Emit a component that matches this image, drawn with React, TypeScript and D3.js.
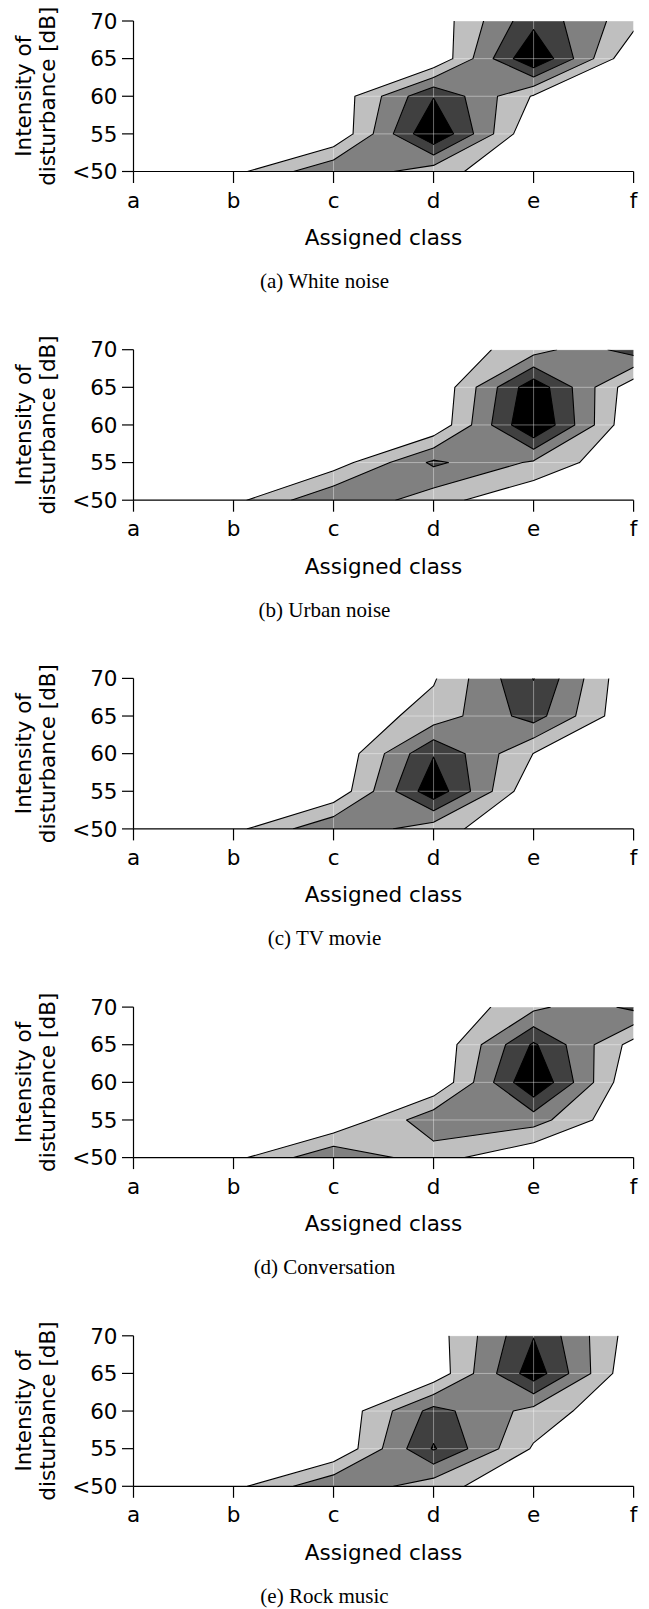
import React from 'react';
import * as d3 from 'd3';

// ---- data ----
const classes = ['a', 'b', 'c', 'd', 'e', 'f'];
const intensityLabels = ['<50', '55', '60', '65', '70'];
const thresholds = [1, 2, 3, 4];
const bandColors = ['#bfbfbf', '#808080', '#404040', '#000000'];

// rows: <50, 55, 60, 65, 70 ; columns: a..f
const whiteNoise = [
  [0, 0.7, 2.87, 1.42, 0.06, 0],
  [0, 0, 0.03, 5.0, 0, 0],
  [0, 0, 0.2, 3.95, 0.9, 0],
  [0, 0, 0, 0.05, 5.0, 0],
  [0, 0, 0, 0.3, 3.7, 1.37],
];
const urbanNoise = [
  [0, 0.7, 2.95, 1.42, 0.06, 0],
  [0, 0, 0.45, 3.2, 1.85, 0],
  [0, 0, 0, 0.1, 5.1, 0],
  [0, 0, 0, 0, 4.7, 0.3],
  [0, 0, 0, 0.24, 1.55, 3.5],
];
const tvMovie = [
  [0, 0.7, 2.87, 1.42, 0.06, 0],
  [0, 0, 0.2, 4.7, 0.1, 0],
  [0, 0, 0, 3.93, 0.98, 0],
  [0, 0, 0.22, 1.4, 3.45, 0],
  [0, 0, 0, 0.9, 4.03, 0],
];
const conversation = [
  [0, 0.7, 2.87, 1.42, 0.06, 0],
  [0, 0, 0, 2.74, 2.44, 0],
  [0, 0, 0, 0, 5.0, 0],
  [0, 0, 0, 0.04, 4.15, 0.6],
  [0, 0, 0, 0, 1.75, 3.25],
];
const rockMusic = [
  [0, 0.7, 2.87, 1.42, 0.06, 0],
  [0, 0, 0, 4.1, 0.88, 0],
  [0, 0, 0.04, 3.37, 1.65, 0],
  [0, 0, 0, 0.27, 4.6, 0.05],
  [0, 0, 0, 0.46, 3.96, 0.45],
];
const panels = [whiteNoise, urbanNoise, tvMovie, conversation, rockMusic];
const captions = ['(a) White noise', '(b) Urban noise', '(c) TV movie', '(d) Conversation', '(e) Rock music'];

// ---- layout ----
const W = 649;
const H = 1609;
const X0 = 133.5;
const X1 = 633.6;
const TOP0 = 21;
const STEP = 328.7;
const PH = 150.5;
const FONT = 'DejaVu Sans, sans-serif';
const FS = 21.5;

type Pt = [number, number];

// marching squares on the quad grid, saddles resolved with the cell-centre mean
function isoRegion(values: number[][], T: number) {
  const fills: Pt[][] = [];
  const segs: [Pt, Pt][] = [];
  const ny = values.length;
  const nx = values[0].length;
  const offs: Pt[] = [[0, 0], [1, 0], [1, 1], [0, 1]];
  for (let j = 0; j < ny - 1; j++) {
    for (let i = 0; i < nx - 1; i++) {
      const pts: Pt[] = offs.map(([dx, dy]) => [i + dx, j + dy] as Pt);
      const vs = offs.map(([dx, dy]) => values[j + dy][i + dx]);
      const ab = vs.map((v) => v >= T);
      const n = ab.filter(Boolean).length;
      if (n === 0) continue;
      if (n === 4) {
        fills.push(pts);
        continue;
      }
      const cross = (k: number): Pt => {
        const k2 = (k + 1) % 4;
        const t = (T - vs[k]) / (vs[k2] - vs[k]);
        return [pts[k][0] + t * (pts[k2][0] - pts[k][0]), pts[k][1] + t * (pts[k2][1] - pts[k][1])];
      };
      const walk = () => {
        const poly: Pt[] = [];
        for (let k = 0; k < 4; k++) {
          if (ab[k]) poly.push(pts[k]);
          if (ab[k] !== ab[(k + 1) % 4]) poly.push(cross(k));
        }
        return poly;
      };
      const saddle = n === 2 && ab[0] === ab[2];
      if (saddle) {
        const mid = (vs[0] + vs[1] + vs[2] + vs[3]) / 4;
        if (mid >= T) {
          fills.push(walk());
          for (let m = 0; m < 4; m++) if (!ab[m]) segs.push([cross((m + 3) % 4), cross(m)]);
        } else {
          for (let m = 0; m < 4; m++)
            if (ab[m]) {
              fills.push([cross((m + 3) % 4), pts[m], cross(m)]);
              segs.push([cross((m + 3) % 4), cross(m)]);
            }
        }
      } else {
        fills.push(walk());
        const cs: Pt[] = [];
        for (let k = 0; k < 4; k++) if (ab[k] !== ab[(k + 1) % 4]) cs.push(cross(k));
        if (cs.length === 2) segs.push([cs[0], cs[1]]);
      }
    }
  }
  return { fills, segs };
}

function Panel({ values, caption, idx }: { values: number[][]; caption: string; idx: number }) {
  const top = TOP0 + STEP * idx;
  const bottom = top + PH;
  const x = d3.scaleLinear().domain([0, classes.length - 1]).range([X0, X1]);
  const y = d3.scaleLinear().domain([0, intensityLabels.length - 1]).range([bottom, top]);
  const line = d3
    .line<Pt>()
    .x((p) => x(p[0]))
    .y((p) => y(p[1]));
  const levels = thresholds.map((T) => isoRegion(values, T));
  const clipId = `clip-${idx}`;
  const cy = (top + bottom) / 2;
  return (
    <g>
      <defs>
        <clipPath id={clipId}>
          <rect x={X0} y={top} width={X1 - X0} height={PH} />
        </clipPath>
      </defs>
      <g clipPath={`url(#${clipId})`}>
        {levels.map((lv, i) => (
          <path
            key={'f' + i}
            d={lv.fills.map((p) => (line(p) || '') + 'Z').join('')}
            fill={bandColors[i]}
            stroke="none"
          />
        ))}
        {classes.map((c, i) => (
          <line key={'gx' + i} x1={x(i)} x2={x(i)} y1={top} y2={bottom} stroke="#ffffff" strokeOpacity={0.4} strokeWidth={1} />
        ))}
        {intensityLabels.map((l, j) => (
          <line key={'gy' + j} x1={X0} x2={X1} y1={y(j)} y2={y(j)} stroke="#ffffff" strokeOpacity={0.4} strokeWidth={1} />
        ))}
        {levels.map((lv, i) => (
          <path
            key={'l' + i}
            d={lv.segs.map((s) => line(s) || '').join('')}
            fill="none"
            stroke="#000"
            strokeWidth={1.1}
            strokeLinecap="round"
            strokeLinejoin="round"
          />
        ))}
      </g>
      {/* axes */}
      <line x1={X0} x2={X0} y1={top} y2={bottom} stroke="#000" strokeWidth={1.2} />
      <line x1={X0} x2={X1} y1={bottom} y2={bottom} stroke="#000" strokeWidth={1.2} />
      {intensityLabels.map((l, j) => (
        <g key={'ty' + j}>
          <line x1={X0 - 11.5} x2={X0} y1={y(j)} y2={y(j)} stroke="#000" strokeWidth={1.2} />
          <text x={X0 - 16} y={y(j)} dy="0.36em" textAnchor="end" fontFamily={FONT} fontSize={FS} fill="#000">
            {l}
          </text>
        </g>
      ))}
      {classes.map((c, i) => (
        <g key={'tx' + i}>
          <line x1={x(i)} x2={x(i)} y1={bottom} y2={bottom + 11.5} stroke="#000" strokeWidth={1.2} />
          <text x={x(i)} y={bottom + 36} textAnchor="middle" fontFamily={FONT} fontSize={FS} fill="#000">
            {c}
          </text>
        </g>
      ))}
      <text x={(X0 + X1) / 2} y={bottom + 73.5} textAnchor="middle" fontFamily={FONT} fontSize={FS} fill="#000">
        Assigned class
      </text>
      <text transform={`translate(31,${cy}) rotate(-90)`} textAnchor="middle" fontFamily={FONT} fontSize={FS} fill="#000">
        Intensity of
      </text>
      <text transform={`translate(54.5,${cy}) rotate(-90)`} textAnchor="middle" fontFamily={FONT} fontSize={FS} fill="#000">
        disturbance [dB]
      </text>
      <text x={324.5} y={top + 267} textAnchor="middle" fontFamily="Liberation Serif, Times New Roman, serif" fontSize={21} fill="#000">
        {caption}
      </text>
    </g>
  );
}

export default function App() {
  return (
    <svg width={W} height={H} viewBox={`0 0 ${W} ${H}`} style={{ position: 'absolute', left: 0, top: 0, background: '#fff' }}>
      <rect x={0} y={0} width={W} height={H} fill="#fff" />
      {panels.map((v, i) => (
        <Panel key={i} values={v} caption={captions[i]} idx={i} />
      ))}
    </svg>
  );
}
